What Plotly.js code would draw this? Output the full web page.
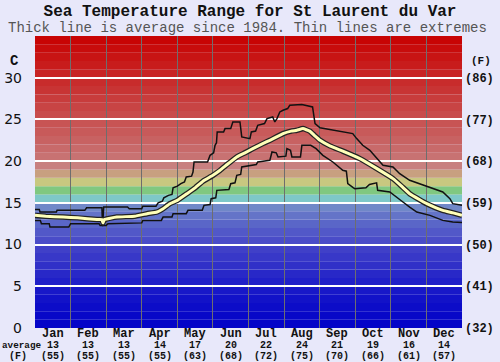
<!DOCTYPE html>
<html>
<head>
<meta charset="utf-8">
<script src="https://cdn.plot.ly/plotly-3.0.1.min.js"></script>
<style>html,body{margin:0;padding:0;background:#e8e8fa;}#chart{width:500px;height:362px;}</style>
</head>
<body>
<div id="chart"></div>
<script>
// ---- data ----
const months = ["Jan","Feb","Mar","Apr","May","Jun","Jul","Aug","Sep","Oct","Nov","Dec"];
const monthAvgC = [13,13,13,14,17,20,22,24,21,19,16,14];
const monthAvgF = [55,55,55,55,63,68,72,75,70,66,61,57];

// x positions in month units (0 = start of Jan, 12 = end of Dec)
const maxX = [0.00,0.12,0.14,0.60,0.62,1.40,1.45,1.88,1.90,1.93,2.60,2.65,3.00,3.03,3.40,3.46,3.58,3.62,3.75,3.85,3.88,4.00,4.10,4.20,4.25,4.40,4.44,4.47,4.85,4.92,5.02,5.06,5.10,5.12,5.30,5.34,5.50,5.56,5.76,5.81,6.04,6.08,6.20,6.26,6.45,6.52,6.68,6.74,6.80,6.88,6.97,7.10,7.16,7.50,7.80,7.87,8.01,8.30,8.65,8.93,9.04,9.21,9.41,9.61,9.78,10.06,10.25,10.53,10.81,11.18,11.46,11.66,11.74,12.00];
const maxV = [14.2,14.2,13.9,13.9,14.1,14.1,14.4,14.4,12.2,14.5,14.5,14.3,14.3,14.6,14.6,15.0,15.2,15.6,15.9,16.0,16.8,17.0,17.3,17.5,18.1,18.2,18.7,19.9,19.9,20.7,21.0,21.9,22.2,23.5,23.5,23.9,23.9,24.7,24.7,22.9,22.7,23.5,23.6,24.3,24.5,25.1,25.3,24.7,25.1,25.9,26.1,26.3,26.7,26.8,26.5,24.5,24.0,23.8,23.5,23.3,22.7,21.9,21.3,20.3,19.5,19.3,18.5,17.7,17.3,16.7,16.3,15.5,14.9,14.7];

const avgX = [0.00,0.30,0.79,1.20,1.74,1.88,1.91,1.95,2.30,2.80,3.15,3.43,3.60,3.79,4.00,4.27,4.50,4.72,5.00,5.20,5.40,5.67,5.90,6.12,6.40,6.60,6.97,7.20,7.36,7.53,7.72,7.85,8.01,8.30,8.65,9.13,9.61,10.06,10.30,10.53,10.80,11.01,11.46,11.75,12.00];
const avgV = [13.5,13.4,13.3,13.2,13.0,13.0,12.6,13.0,13.3,13.4,13.7,13.9,14.3,14.9,15.3,16.1,16.8,17.6,18.3,18.9,19.6,20.5,21.0,21.5,22.1,22.5,23.3,23.6,23.7,23.9,23.6,23.1,22.5,21.8,21.2,20.3,19.1,17.9,17.0,16.1,15.4,14.9,14.1,13.8,13.5];

const minX = [0.00,0.15,0.18,0.40,0.42,0.95,1.00,1.80,1.83,2.00,2.05,2.65,3.00,3.03,3.55,3.60,3.85,3.88,4.25,4.30,4.70,4.75,4.92,4.95,5.08,5.11,5.45,5.50,5.62,5.67,5.78,5.81,6.04,6.22,6.26,6.60,6.66,6.78,6.83,7.05,7.08,7.18,7.22,7.46,7.50,7.75,7.90,8.09,8.37,8.65,8.75,8.79,8.95,8.99,9.30,9.40,9.60,9.63,9.97,10.17,10.34,10.53,10.73,11.10,11.46,11.74,12.00];
const minV = [12.9,12.9,12.5,12.5,12.1,12.1,12.5,12.5,12.3,12.3,12.5,12.6,12.6,12.9,12.9,13.3,13.3,13.7,13.7,14.1,14.1,14.7,14.8,15.5,15.6,16.5,16.6,17.3,17.4,18.3,18.4,19.3,19.5,19.6,19.9,20.1,21.1,21.0,20.5,20.6,21.5,21.3,20.5,20.5,21.9,21.9,21.5,20.7,19.9,18.9,18.8,17.3,16.8,16.7,16.8,17.2,17.4,16.5,16.3,15.7,15.1,14.5,13.9,13.5,12.9,12.7,12.65];

// background colour bands, one per degree C from 0 upwards
const bandColors = ["#0404c8","#0808c8","#0c0cc8","#1212c8","#1818c8","#2020c8","#2828c8","#3030c8","#3838c8","#4040c8","#4a4cc8","#5258c8","#5a66c8","#6474c8","#7088c8","#7ec8c8","#80c880","#c8c880","#c8a080","#c88080","#c87272","#c86a6a","#c86262","#c85a5a","#c85454","#c84c4c","#c84444","#c83c3c","#c83434","#c82c2c","#c82424","#c81c1c","#c81414","#c80c0c","#c80404"];

const yTicksC = [0,5,10,15,20,25,30];
const yTicksF = [32,41,50,59,68,77,86];

// ---- build ----
const mono = "Liberation Mono, Courier New, monospace";
const shapes = bandColors.map((c,i)=>({type:"rect",xref:"paper",x0:0,x1:1,yref:"y",y0:i,y1:i+1,fillcolor:c,line:{width:0},layer:"below"}));

const traces = [
  {x:maxX,y:maxV,mode:"lines",line:{color:"#111",width:1.5},hoverinfo:"skip",showlegend:false},
  {x:minX,y:minV,mode:"lines",line:{color:"#111",width:1.5},hoverinfo:"skip",showlegend:false},
  {x:avgX,y:avgV,mode:"lines",line:{color:"#222",width:5.5,shape:"spline",smoothing:0.3},hoverinfo:"skip",showlegend:false},
  {x:avgX,y:avgV,mode:"lines",line:{color:"#ffffb8",width:3,shape:"spline",smoothing:0.3},hoverinfo:"skip",showlegend:false}
];

const annotations = [];
months.forEach((m,i)=>{
  annotations.push({x:i+0.5,xref:"x",xanchor:"center",y:0,yref:"paper",yanchor:"middle",yshift:-6,text:"<b>"+m+"</b>",showarrow:false,font:{family:mono,size:12,color:"#111"}});
  annotations.push({x:i+0.5,xref:"x",xanchor:"center",y:0,yref:"paper",yanchor:"middle",yshift:-17,text:String(monthAvgC[i]),showarrow:false,font:{family:mono,size:10,color:"#111",weight:"bold"}});
  annotations.push({x:i+0.5,xref:"x",xanchor:"center",y:0,yref:"paper",yanchor:"middle",yshift:-28,text:"("+monthAvgF[i]+")",showarrow:false,font:{family:mono,size:10,color:"#111",weight:"bold"}});
});
annotations.push({x:0.0187,xref:"paper",xanchor:"right",y:0,yref:"paper",yanchor:"middle",yshift:-17,text:"average",showarrow:false,font:{family:mono,size:9.3,color:"#111",weight:"bold"}});
annotations.push({x:-0.04,xref:"paper",xanchor:"center",y:0,yref:"paper",yanchor:"middle",yshift:-28,text:"(F)",showarrow:false,font:{family:mono,size:10,color:"#111",weight:"bold"}});
annotations.push({x:-0.047,xref:"paper",xanchor:"center",y:32,yref:"y",yanchor:"middle",text:"C",showarrow:false,font:{family:mono,size:14,color:"#111",weight:"bold"}});
annotations.push({x:1.0445,xref:"paper",y:32,yref:"y",xanchor:"center",yanchor:"middle",text:"(F)",showarrow:false,font:{family:mono,size:11,color:"#111",weight:"bold"}});
annotations.push({x:0.4988,xref:"paper",y:1.0257,yref:"paper",xanchor:"center",yanchor:"middle",text:"Thick line is average since 1984. Thin lines are extremes",showarrow:false,font:{family:mono,size:14,color:"#555"}});

const layout = {
  width:500,height:362,
  margin:{l:35,r:38,t:36,b:34},
  paper_bgcolor:"#e8e8fa",plot_bgcolor:"#e8e8fa",
  title:{text:"<b>Sea Temperature Range for St Laurent du Var</b>",x:0.5,xref:"container",y:0.9724,yanchor:"middle",font:{family:mono,size:16,color:"#111"}},
  xaxis:{range:[0,12],showticklabels:false,ticks:"",showgrid:false,zeroline:false,showline:false,fixedrange:true,
         minor:{tickvals:[1,2,3,4,5,6,7,8,9,10,11],showgrid:true,gridcolor:"#6e6e6e",gridwidth:1,ticks:""}},
  yaxis:{range:[0,35],tickvals:yTicksC,ticktext:yTicksC.map(String),showgrid:false,zeroline:false,showline:false,ticks:"",ticklabelstandoff:12,
         tickfont:{family:"DejaVu Sans, sans-serif",size:14,color:"#111"},fixedrange:true,
         minor:{tickvals:[5,10,15,20,25,30],showgrid:true,gridcolor:"#ffffff",gridwidth:2,ticks:""}},
  yaxis2:{overlaying:"y",side:"right",range:[32,95],tickvals:yTicksF,ticktext:yTicksF.map(v=>"("+v+")"),showgrid:false,zeroline:false,showline:false,ticks:"",ticklabelstandoff:2,
          tickfont:{family:mono,size:12,color:"#111",weight:"bold"},fixedrange:true},
  shapes:shapes,
  annotations:annotations
};
traces.push({x:[0],y:[32],yaxis:"y2",mode:"markers",marker:{opacity:0},hoverinfo:"skip",showlegend:false});
Plotly.newPlot("chart",traces,layout,{displayModeBar:false,staticPlot:true});
</script>
</body>
</html>
